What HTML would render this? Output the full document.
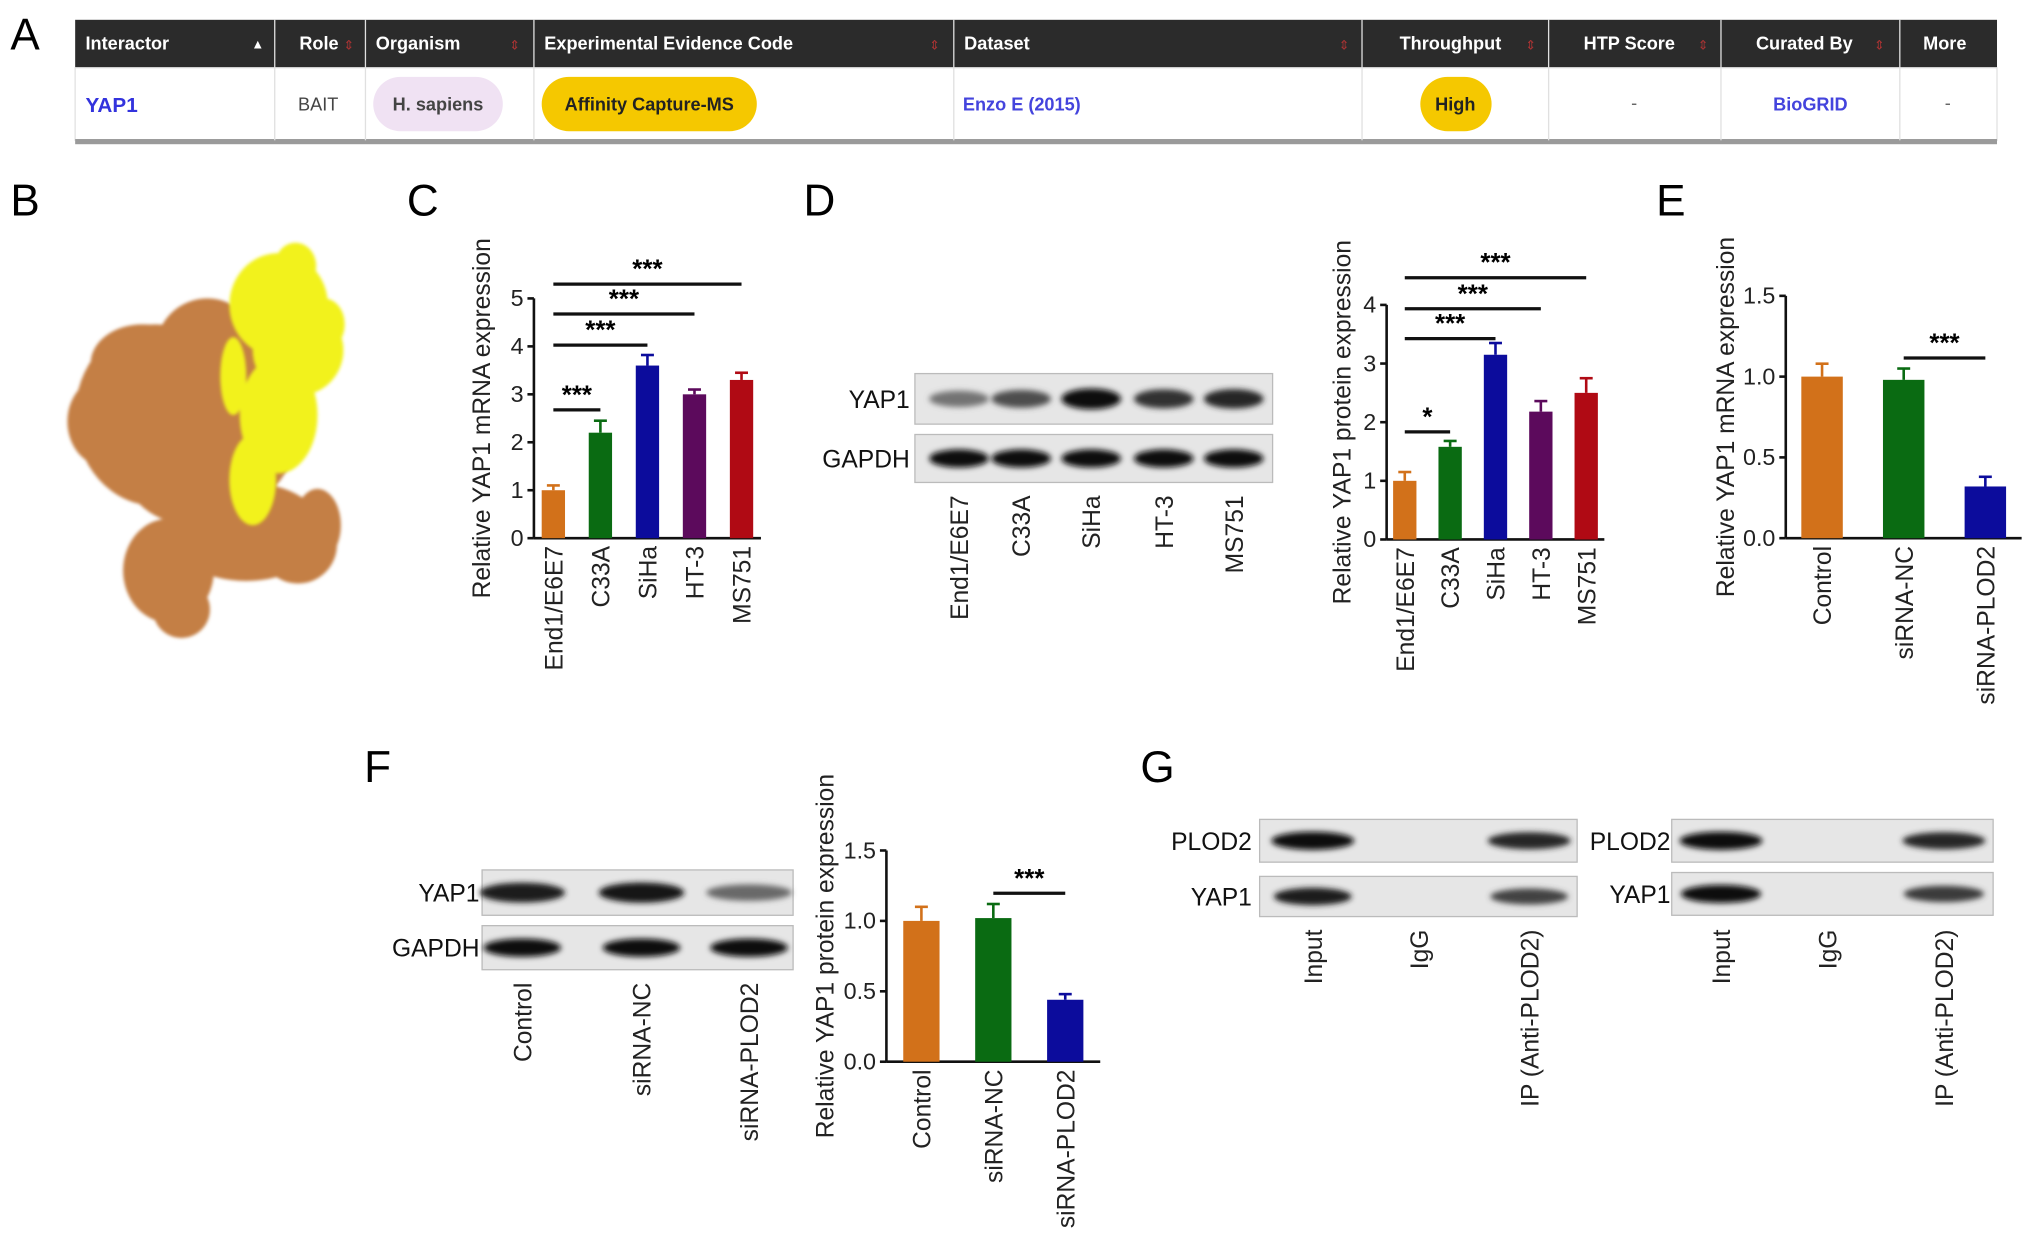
<!DOCTYPE html>
<html><head><meta charset="utf-8"><style>
html,body{margin:0;padding:0;background:#fff;}
svg{display:block;font-family:"Liberation Sans",Arial,sans-serif;}
</style></head><body>
<svg id="fig" width="2032" height="1250" viewBox="0 0 1568 964" xmlns="http://www.w3.org/2000/svg">
<defs>
<filter id="blur1" x="-20%" y="-50%" width="140%" height="200%"><feGaussianBlur stdDeviation="2.2"/></filter>
<filter id="blur2"><feGaussianBlur stdDeviation="1.2"/></filter>
</defs>
<g id="panelA">
<text x="8" y="38" font-size="34">A</text>
<rect x="58" y="15" width="1483" height="37" fill="#2b2b2b"/>
<rect x="58" y="52" width="1483" height="56" fill="#fff" stroke="#e2e2e2"/>
<rect x="58" y="107" width="1483" height="4" fill="#9a9a9a"/>
<g stroke="#e0e0e0" stroke-width="1">
<line x1="212" y1="15" x2="212" y2="108"/><line x1="282" y1="15" x2="282" y2="108"/><line x1="412" y1="15" x2="412" y2="108"/><line x1="736" y1="15" x2="736" y2="108"/><line x1="1051" y1="15" x2="1051" y2="108"/><line x1="1195" y1="15" x2="1195" y2="108"/><line x1="1328" y1="15" x2="1328" y2="108"/><line x1="1466" y1="15" x2="1466" y2="108"/>
</g>
<g fill="#fff" font-size="14" font-weight="bold">
<text x="66" y="38">Interactor</text>
<text x="194" y="37" font-size="10">▲</text>
<text x="231" y="38">Role</text>
<text x="290" y="38">Organism</text>
<text x="420" y="38">Experimental Evidence Code</text>
<text x="744" y="38">Dataset</text>
<text x="1080" y="38">Throughput</text>
<text x="1222" y="38">HTP Score</text>
<text x="1355" y="38">Curated By</text>
<text x="1484" y="38">More</text>
</g>
<g fill="#a33" font-size="10"><text x="265" y="38">⇕</text><text x="393" y="38">⇕</text><text x="717" y="38">⇕</text><text x="1033" y="38">⇕</text><text x="1177" y="38">⇕</text><text x="1310" y="38">⇕</text><text x="1446" y="38">⇕</text></g>
<text x="66" y="86" font-size="16" font-weight="bold" fill="#3333dd">YAP1</text>
<text x="230" y="85" font-size="14" fill="#444">BAIT</text>
<rect x="288" y="59" width="100" height="42" rx="21" fill="#f0e2f3"/>
<text x="338" y="85" font-size="14" font-weight="bold" fill="#444" text-anchor="middle">H. sapiens</text>
<rect x="418" y="59" width="166" height="42" rx="21" fill="#f5c800"/>
<text x="501" y="85" font-size="14" font-weight="bold" fill="#222" text-anchor="middle">Affinity Capture-MS</text>
<text x="743" y="85" font-size="14" font-weight="bold" fill="#4444dd">Enzo E (2015)</text>
<rect x="1096" y="59" width="55" height="42" rx="21" fill="#f5c800"/>
<text x="1123" y="85" font-size="14" font-weight="bold" fill="#222" text-anchor="middle">High</text>
<text x="1261" y="84" font-size="14" fill="#666" text-anchor="middle">-</text>
<text x="1397" y="85" font-size="14" font-weight="bold" fill="#4444dd" text-anchor="middle">BioGRID</text>
<text x="1503" y="84" font-size="14" fill="#666" text-anchor="middle">-</text>
</g>

<g id="panelB">
<text x="8" y="166" font-size="34">B</text>
<g fill="#c47f45" filter="url(#blur2)">
<ellipse cx="120" cy="320" rx="62" ry="70"/><ellipse cx="110" cy="280" rx="40" ry="30"/>
<ellipse cx="160" cy="270" rx="40" ry="40"/><ellipse cx="150" cy="360" rx="55" ry="45"/>
<ellipse cx="190" cy="410" rx="60" ry="38"/><ellipse cx="230" cy="420" rx="30" ry="30"/>
<ellipse cx="130" cy="440" rx="35" ry="40"/><ellipse cx="140" cy="470" rx="22" ry="22"/>
<ellipse cx="82" cy="325" rx="30" ry="35"/><ellipse cx="200" cy="320" rx="30" ry="60"/>
<ellipse cx="245" cy="405" rx="18" ry="28"/>
</g>
<g fill="#f2f21c" filter="url(#blur2)">
<ellipse cx="215" cy="235" rx="38" ry="40"/><ellipse cx="230" cy="270" rx="35" ry="35"/>
<ellipse cx="215" cy="320" rx="30" ry="45"/><ellipse cx="195" cy="370" rx="18" ry="35"/>
<ellipse cx="228" cy="205" rx="16" ry="18"/><ellipse cx="250" cy="250" rx="16" ry="20"/>
<ellipse cx="180" cy="290" rx="10" ry="30"/>
</g>
</g>

<g id="texts" font-size="34">
<text x="314" y="166">C</text>
<text x="620" y="166">D</text>
<text x="1278" y="166">E</text>
<text x="281" y="603">F</text>
<text x="880" y="603">G</text>
</g>
<g id="charts"></g>
<g id="blots"></g>
</svg>
<script>
const NS="http://www.w3.org/2000/svg";
const cCats=["End1/E6E7","C33A","SiHa","HT-3","MS751"];
const cVals=[1.0,2.2,3.6,3.0,3.3];
const cErrs=[0.1,0.25,0.22,0.1,0.15];
const cTicks=[0,1,2,3,4,5];
const dVals=[1.0,1.58,3.15,2.18,2.5];
const dErrs=[0.15,0.1,0.2,0.18,0.25];
const dTicks=[0,1,2,3,4];
const eCats=["Control","siRNA-NC","siRNA-PLOD2"];
const eVals=[1.0,0.98,0.32];
const eErrs=[0.08,0.07,0.06];
const eTicks=[0.0,0.5,1.0,1.5];
const fVals=[1.0,1.02,0.44];
const fErrs=[0.1,0.1,0.04];
const fTicks=[0.0,0.5,1.0,1.5];
const colors5=["#d2711a","#0a6b12","#0c0c9c","#5c0a5c","#b00a14"];
const colors3=["#d2711a","#0a6b12","#0c0c9c"];
const blotD_yap=[0.45,0.65,1.0,0.8,0.85];
const blotD_gapdh=[1,1,1,1,1];
const blotF_yap=[0.9,0.95,0.5];
const blotF_gapdh=[1,1,1];

function el(tag,attrs,parent,txt){const e=document.createElementNS(NS,tag);for(const k in attrs)e.setAttribute(k,attrs[k]);if(txt!==undefined)e.textContent=txt;parent.appendChild(e);return e;}
const charts=document.getElementById('charts');
function chart(o){
  const g=el('g',{},charts);
  
  
  const y=v=>o.y0-(v-o.ticks[0])/(o.ticks[o.ticks.length-1]-o.ticks[0])*(o.y0-o.yTop);
  const x=i=>o.x0+o.pad+i*o.step;
  el('line',{x1:o.x0,y1:o.y0,x2:o.x0,y2:y(o.ticks[o.ticks.length-1]),stroke:'#111','stroke-width':2},g);
  el('line',{x1:o.x0,y1:o.y0,x2:x(o.cats.length-1)+o.pad,y2:o.y0,stroke:'#111','stroke-width':2},g);
  o.ticks.forEach(t=>{
    el('line',{x1:o.x0-5,y1:y(t),x2:o.x0,y2:y(t),stroke:'#111','stroke-width':2},g);
    const tl=el('text',{x:o.x0-8,y:y(t)+6,'font-size':18,'text-anchor':'end',fill:'#222'},g,o.dec?t.toFixed(1):String(t));
    
    
  });
  o.vals.forEach((v,i)=>{
    const cx=x(i);
    el('line',{x1:cx,y1:y(v),x2:cx,y2:y(v+o.errs[i]),stroke:o.colors[i],'stroke-width':2},g);
    el('line',{x1:cx-5,y1:y(v+o.errs[i]),x2:cx+5,y2:y(v+o.errs[i]),stroke:o.colors[i],'stroke-width':2},g);
    const b=el('rect',{x:cx-o.bw/2,y:y(v),width:o.bw,height:o.y0-y(v),fill:o.colors[i]},g);
    
    
    const lx=cx+7, ly=o.y0+6;
    const t=el('text',{x:lx,y:ly,'font-size':19,'text-anchor':'end',fill:'#222',transform:`rotate(-90 ${lx} ${ly})`},g,o.cats[i]);
    
    
  });
  const tx=o.titleX, ty=(o.y0+y(o.ticks[o.ticks.length-1]))/2+ (o.titleDy||0);
  const tt=el('text',{x:tx,y:ty,'font-size':19,'text-anchor':'middle',fill:'#222',transform:`rotate(-90 ${tx} ${ty})`},g,o.title);
  
  
  o.sig.forEach(s=>{
    el('line',{x1:x(s[0]),y1:s[2],x2:x(s[1]),y2:s[2],stroke:'#111','stroke-width':2.5},g);
    const st=el('text',{x:(x(s[0])+x(s[1]))/2,y:s[2]-5,'font-size':20,'font-weight':'bold','text-anchor':'middle'},g,s[3]);
    
    
  });
}
chart({name:'panel-c-mrna-chart',cats:cCats,vals:cVals,errs:cErrs,ticks:cTicks,colors:colors5,x0:412,y0:415,yTop:230,pad:15,step:36.3,bw:18,titleX:378,title:'Relative YAP1 mRNA expression',sig:[[0,1,316,'***'],[0,2,266,'***'],[0,3,242,'***'],[0,4,219,'***']]});
chart({name:'panel-d-protein-chart',cats:cCats,vals:dVals,errs:dErrs,ticks:dTicks,colors:colors5,x0:1070,y0:416,yTop:235,pad:14,step:35,bw:18,titleX:1042,title:'Relative YAP1 protein expression',sig:[[0,1,333,'*'],[0,2,261,'***'],[0,3,238,'***'],[0,4,214,'***']]});
chart({name:'panel-e-mrna-chart',cats:eCats,vals:eVals,errs:eErrs,ticks:eTicks,dec:true,colors:colors3,x0:1378,y0:415,yTop:228,pad:28,step:63,bw:32,titleX:1338,title:'Relative YAP1 mRNA expression',sig:[[1,2,276,'***']]});
chart({name:'panel-f-protein-chart',cats:eCats,vals:fVals,errs:fErrs,ticks:fTicks,dec:true,colors:colors3,x0:684,y0:819,yTop:656,pad:27,step:55.5,bw:28,titleX:643,title:'Relative YAP1 protein expression',sig:[[1,2,689,'***']]});

const blots=document.getElementById('blots');
function strip(name,x,y,w,h,lanes,intens,label,labelX,bw,bh){
  const g=el('g',{},blots);
  
  
  el('rect',{x,y,width:w,height:h,fill:'#e6e6e6',stroke:'#bbb'},g);
  lanes.forEach((lx,i)=>{
    if(intens[i]<=0.05)return;
    const c=Math.round(200-190*intens[i]);
    el('ellipse',{cx:lx,cy:y+h/2,rx:bw/2,ry:bh/2*(0.6+0.4*intens[i]),fill:`rgb(${c},${c},${c})`,filter:'url(#blur1)'},g);
  });
  const t=el('text',{x:labelX,y:y+h/2+7,'font-size':19,'text-anchor':'end',fill:'#111'},g,label);
  
  
}
function laneLabels(lanes,labels,top,name){
  labels.forEach((s,i)=>{
    const lx=lanes[i]+7;
    const t=el('text',{x:lx,y:top,'font-size':19,'text-anchor':'end',fill:'#222',transform:`rotate(-90 ${lx} ${top})`},blots,s);
    
    
  });
}
const dLanes=[740,788,842,898,952];
strip('blot-d-yap1',706,288,276,39,dLanes,blotD_yap,'YAP1',702,46,16);
strip('blot-d-gapdh',706,335,276,37,dLanes,blotD_gapdh,'GAPDH',702,46,14);
laneLabels(dLanes,cCats,382,'lane-label');
const fLanes=[403,495,578];
strip('blot-f-yap1',372,671,240,35,fLanes,blotF_yap,'YAP1',370,66,16);
strip('blot-f-gapdh',372,714,240,34,fLanes,blotF_gapdh,'GAPDH',370,60,14);
laneLabels(fLanes,eCats,758,'lane-label');
const gL=[1013,1095,1180], gR=[1328,1410,1500];
const gLabels=['Input','IgG','IP (Anti-PLOD2)'];
strip('blot-g1-plod2',972,632,245,33,gL,[1,0.04,0.85],'PLOD2',966,64,14);
strip('blot-g1-yap1',972,676,245,31,gL,[0.9,0,0.7],'YAP1',966,60,14);
laneLabels(gL,gLabels,717,'lane-label');
strip('blot-g2-plod2',1290,632,248,33,gR,[1,0.03,0.85],'PLOD2',1289,64,14);
strip('blot-g2-yap1',1290,673,248,33,gR,[1,0,0.75],'YAP1',1289,62,14);
laneLabels(gR,gLabels,717,'lane-label');
</script>
</body></html>
